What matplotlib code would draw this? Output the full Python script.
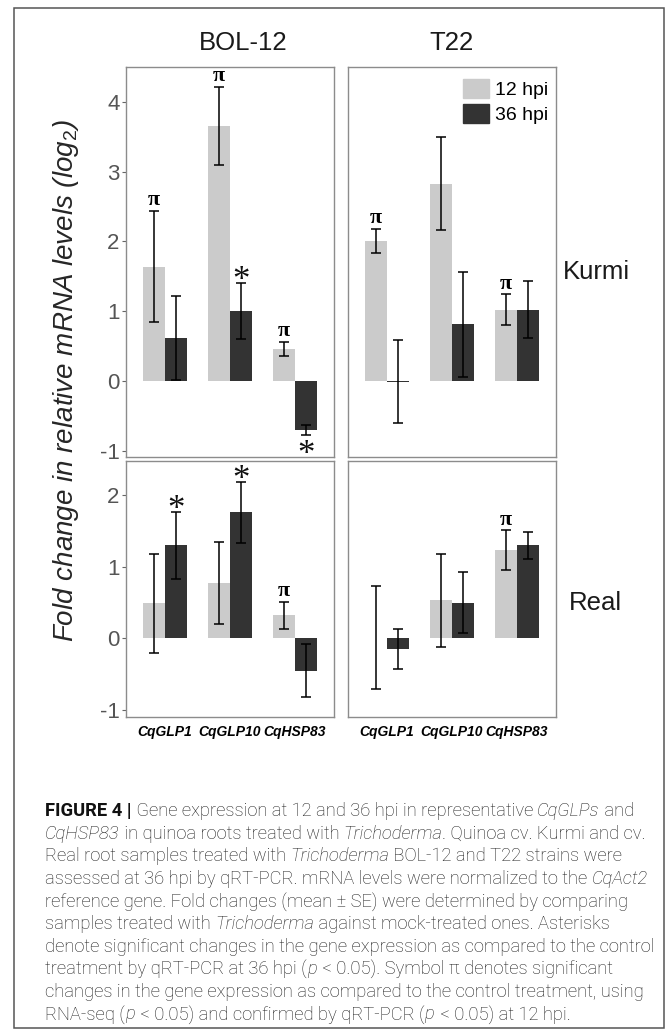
import numpy as np
import matplotlib
matplotlib.use("Agg")
import matplotlib.pyplot as plt
from matplotlib.patches import Patch, Rectangle
from matplotlib.font_manager import FontProperties

# ---------------- data ----------------
genes = ["CqGLP1", "CqGLP10", "CqHSP83"]
strains = ["BOL-12", "T22"]
cultivars = ["Kurmi", "Real"]
series_labels = ["12 hpi", "36 hpi"]

kurmi_bol_12 = [1.64, 3.66, 0.46]
kurmi_bol_12_err = [0.80, 0.56, 0.105]
kurmi_bol_36 = [0.62, 1.00, -0.70]
kurmi_bol_36_err = [0.60, 0.40, 0.07]

kurmi_t22_12 = [2.01, 2.83, 1.02]
kurmi_t22_12_err = [0.17, 0.67, 0.22]
kurmi_t22_36 = [-0.01, 0.81, 1.02]
kurmi_t22_36_err = [0.59, 0.75, 0.41]

real_bol_12 = [0.49, 0.77, 0.32]
real_bol_12_err = [0.69, 0.575, 0.19]
real_bol_36 = [1.30, 1.76, -0.45]
real_bol_36_err = [0.47, 0.43, 0.37]

real_t22_12 = [0.01, 0.53, 1.23]
real_t22_12_err = [0.72, 0.655, 0.28]
real_t22_36 = [-0.15, 0.50, 1.30]
real_t22_36_err = [0.285, 0.43, 0.19]

# significance marks: (gene index, series index, symbol)
kurmi_bol_marks = [(0, 0, "π"), (1, 0, "π"), (1, 1, "*"), (2, 0, "π"), (2, 1, "*")]
kurmi_t22_marks = [(0, 0, "π"), (2, 0, "π")]
real_bol_marks = [(0, 1, "*"), (1, 1, "*"), (2, 0, "π")]
real_t22_marks = [(2, 0, "π")]

y_ticks_top = [-1, 0, 1, 2, 3, 4]
y_ticks_bottom = [-1, 0, 1, 2]

# ---------------- style ----------------
plt.rcParams["font.family"] = ["Liberation Sans", "DejaVu Sans"]
plt.rcParams["mathtext.fontset"] = "custom"
plt.rcParams["mathtext.rm"] = "Liberation Sans"
plt.rcParams["mathtext.it"] = "Liberation Sans:italic"

LIGHT = "#cbcbcb"
DARK = "#333333"
W, H = 670, 1031

fig = plt.figure(figsize=(W / 100, H / 100), dpi=100)


def rect(l, t, r, b):
    return [l / W, 1 - b / H, (r - l) / W, (b - t) / H]


panel_data = {
    (0, 0): (kurmi_bol_12, kurmi_bol_12_err, kurmi_bol_36, kurmi_bol_36_err, kurmi_bol_marks),
    (0, 1): (kurmi_t22_12, kurmi_t22_12_err, kurmi_t22_36, kurmi_t22_36_err, kurmi_t22_marks),
    (1, 0): (real_bol_12, real_bol_12_err, real_bol_36, real_bol_36_err, real_bol_marks),
    (1, 1): (real_t22_12, real_t22_12_err, real_t22_36, real_t22_36_err, real_t22_marks),
}

col_px = [(126, 334), (348, 556)]
row_px = [(67, 457), (461, 717)]
ylims = [(-1.09, 4.5), (-1.10, 2.48)]
yticks = [y_ticks_top, y_ticks_bottom]

x = np.arange(1, len(genes) + 1)
bw = 0.345
SERIF = ["Liberation Serif", "DejaVu Serif"]

for (r, c), (v12, e12, v36, e36, marks) in panel_data.items():
    l, rr = col_px[c]
    t, b = row_px[r]
    ax = fig.add_axes(rect(l, t, rr, b))
    ax.bar(x - bw / 2, v12, bw, color=LIGHT, label=series_labels[0])
    ax.bar(x + bw / 2, v36, bw, color=DARK, label=series_labels[1])
    ax.errorbar(x - bw / 2, v12, yerr=e12, fmt="none", ecolor="black",
                elinewidth=1.1, capsize=3.8, capthick=1.1)
    ax.errorbar(x + bw / 2, v36, yerr=e36, fmt="none", ecolor="black",
                elinewidth=1.1, capsize=3.8, capthick=1.1)
    vals = [v12, v36]
    errs = [e12, e36]
    for gi, si, sym in marks:
        v = vals[si][gi]
        e = errs[si][gi]
        xx = x[gi] + (-bw / 2 if si == 0 else bw / 2)
        if sym == "π":
            ax.annotate(sym, (xx, v + e), xytext=(0, 4), textcoords="offset points",
                        ha="center", va="baseline", fontsize=16, fontweight="bold",
                        family=SERIF, color="black")
        else:
            if v >= 0:
                ax.annotate(sym, (xx, v + e), xytext=(0, -5), textcoords="offset points",
                            ha="center", va="baseline", fontsize=25,
                            family=SERIF, color="#111111")
            else:
                ax.annotate(sym, (xx, v - e), xytext=(0, -21), textcoords="offset points",
                            ha="center", va="baseline", fontsize=25,
                            family=SERIF, color="#111111")
    ax.set_xlim(0.4, 3.6)
    ax.set_ylim(*ylims[r])
    for sp in ax.spines.values():
        sp.set_color("#8c8c8c")
        sp.set_linewidth(1.0)
    ax.set_yticks(yticks[r])
    if c == 0:
        ax.tick_params(axis="y", length=3, width=0.8, color="#666666", pad=1.5,
                       labelsize=16, labelcolor="#555555")
        ax.set_yticklabels([str(v) for v in yticks[r]])
    else:
        ax.tick_params(axis="y", left=False, labelleft=False)
    ax.set_xticks(x)
    if r == 1:
        ax.set_xticklabels(genes, fontsize=10, fontstyle="italic", fontweight="bold")
        ax.tick_params(axis="x", length=0, pad=6)
    else:
        ax.tick_params(axis="x", length=0, labelbottom=False)
    if r == 0 and c == 1:
        handles = [Patch(color=LIGHT), Patch(color=DARK)]
        ax.legend(handles, series_labels, loc="upper right", bbox_to_anchor=(0.965, 0.968),
                  frameon=False, fontsize=14, handlelength=1.3, handleheight=1.1,
                  handletextpad=0.35, labelspacing=0.25, borderpad=0, borderaxespad=0)

# strip / row labels
fig.text(243 / W, 1 - 43 / H, strains[0], ha="center", va="center", fontsize=18.5, color="#1a1a1a")
fig.text(452 / W, 1 - 43 / H, strains[1], ha="center", va="center", fontsize=18.5, color="#1a1a1a")
fig.text(563 / W, 1 - 272 / H, cultivars[0], ha="left", va="center", fontsize=18.5, color="#1a1a1a")
fig.text(569 / W, 1 - 603 / H, cultivars[1], ha="left", va="center", fontsize=18.5, color="#1a1a1a")

# y label
fig.text(66 / W, 1 - 381 / H, "Fold change in relative mRNA levels (log$_{\\mathit{2}}$)",
         rotation=90, ha="center", va="center", fontsize=20, fontstyle="italic", color="#262626")

# outer frame
fig.add_artist(Rectangle((14 / W, 1 - 1028 / H), (664 - 14) / W, (1028 - 8) / H,
                         transform=fig.transFigure, fill=False, ec="#555555", lw=1.1))

# ---------------- caption ----------------
caption = [
    [("FIGURE 4 |", "b"), (" Gene expression at 12 and 36 hpi in representative ", "n"), ("CqGLPs", "i"), (" and", "n")],
    [("CqHSP83", "i"), (" in quinoa roots treated with ", "n"), ("Trichoderma", "i"), (". Quinoa cv. Kurmi and cv.", "n")],
    [("Real root samples treated with ", "n"), ("Trichoderma", "i"), (" BOL-12 and T22 strains were", "n")],
    [("assessed at 36 hpi by qRT-PCR. mRNA levels were normalized to the ", "n"), ("CqAct2", "i")],
    [("reference gene. Fold changes (mean ± SE) were determined by comparing", "n")],
    [("samples treated with ", "n"), ("Trichoderma", "i"), (" against mock-treated ones. Asterisks", "n")],
    [("denote significant changes in the gene expression as compared to the control", "n")],
    [("treatment by qRT-PCR at 36 hpi (", "n"), ("p", "i"), (" < 0.05). Symbol π denotes significant", "n")],
    [("changes in the gene expression as compared to the control treatment, using", "n")],
    [("RNA-seq (", "n"), ("p", "i"), (" < 0.05) and confirmed by qRT-PCR (", "n"), ("p", "i"), (" < 0.05) at 12 hpi.", "n")],
]

renderer = fig.canvas.get_renderer()
CAP_FAMILY = ["Roboto", "Liberation Sans", "DejaVu Sans"]


def fprops(style, size):
    return FontProperties(family=CAP_FAMILY, size=size,
                          style="italic" if style == "i" else "normal",
                          weight="bold" if style == "b" else "light")


def seg_width(s, fp):
    w1 = renderer.get_text_width_height_descent("|" + s + "|", fp, ismath=False)[0]
    w0 = renderer.get_text_width_height_descent("||", fp, ismath=False)[0]
    return w1 - w0


def line_width(line, size):
    return sum(seg_width(s, fprops(st, size)) for s, st in line)


base = 12.0
cap_size = base * 607.0 / line_width(caption[6], base)
x0 = 45
y0 = 816
dy = 22.6
for i, line in enumerate(caption):
    xp = x0
    yb = y0 + i * dy
    for s, st in line:
        fp = fprops(st, cap_size)
        fig.text(xp / W, 1 - yb / H, s, fontproperties=fp, ha="left", va="baseline",
                 color="#111111" if st == "b" else "#1e1e1e")
        xp += seg_width(s, fp)
        if s == "p":
            xp += 1.5  # small italic correction before an upright space

fig.savefig("out.png", dpi=100)
